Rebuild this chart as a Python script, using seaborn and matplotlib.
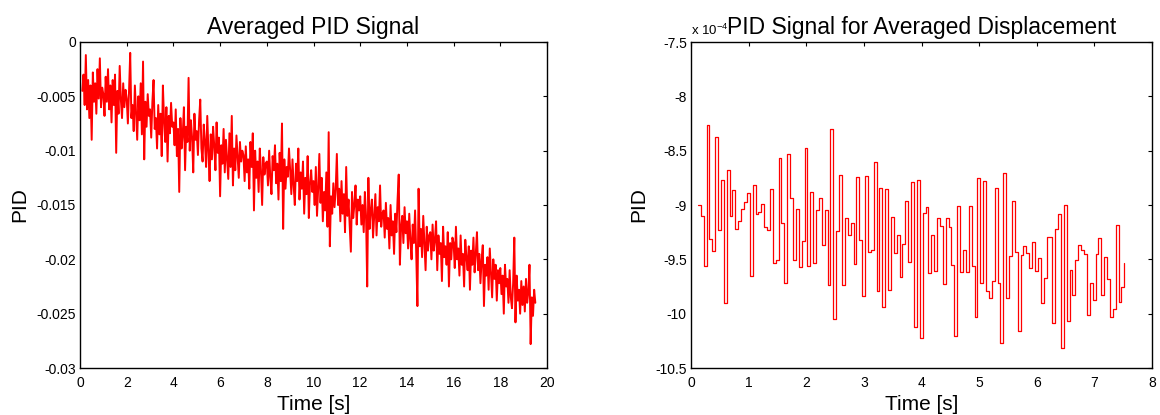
import numpy as np
import pandas as pd
import matplotlib
matplotlib.use('Agg')
import matplotlib.pyplot as plt
from matplotlib.ticker import FuncFormatter, MultipleLocator
import seaborn as sns


# averaged PID signal, units of 1e-4, one value every 0.05 s from t = 0.1 s
pid_avg = [
    -45, -30, -58, -12, -62, -35, -70, -40, -90, -28, -55, -38, -66, -25, -52, -15, -60, -42,
    -48, -68, -32, -55, -25, -62, -40, -74, -35, -58, -30, -102, -45, -66, -22, -53, -70, -38, -60, -44,
    -52, -75, -45, -10, -70, -58, -82, -40, -66, -90, -50, -72, -38, -85, -18, -108, -55, -78, -48, -68,
    -62, -88, -55, -35, -80, -70, -98, -58, -85, -66, -105, -40, -72, -92, -60, -110, -68, -84, -56, -78,
    -74, -95, -62, -105, -80, -138, -70, -98, -85, -60, -118, -78, -92, -33, -100, -72, -88, -120, -66, -90,
    -82, -104, -72, -53, -98, -110, -76, -92, -115, -68, -100, -128, -85, -108, -78, -96, -118, -74, -102, -88,
    -142, -95, -112, -80, -120, -90, -108, -126, -84, -115, -68, -132, -98, -118, -86, -106, -125, -92, -110, -100,
    -104, -128, -96, -120, -108, -135, -92, -115, -84, -155, -100, -125, -110, -138, -98, -118, -150, -106, -122, -112,
    -110, -132, -100, -125, -140, -105, -118, -95, -130, -112, -145, -102, -128, -75, -172, -108, -135, -115, -124, -98,
    -118, -140, -108, -132, -150, -112, -128, -98, -145, -120, -135, -110, -158, -125, -140, -105, -162, -130, -118, -138,
    -128, -150, -115, -160, -135, -103, -148, -125, -165, -138, -155, -120, -170, -83, -188, -142, -158, -130, -152, -136,
    -103, -150, -135, -165, -128, -158, -140, -175, -115, -160, -145, -170, -193, -138, -162, -150, -132, -168, -145, -155,
    -142, -168, -150, -175, -138, -160, -225, -125, -172, -155, -145, -180, -160, -140, -178, -152, -165, -132, -170, -158,
    -155, -180, -148, -172, -162, -190, -150, -178, -165, -195, -158, -175, -145, -122, -205, -170, -160, -185, -152, -176,
    -165, -190, -158, -182, -200, -168, -185, -155, -195, -243, -135, -188, -172, -198, -160, -185, -210, -170, -192, -178,
    -175, -200, -168, -192, -182, -165, -210, -178, -195, -185, -220, -170, -198, -188, -205, -175, -225, -185, -200, -180,
    -185, -208, -170, -200, -190, -215, -178, -205, -195, -225, -182, -198, -210, -188, -228, -192, -205, -180, -212, -195,
    -175, -210, -195, -222, -200, -187, -243, -205, -215, -198, -228, -190, -212, -235, -200, -218, -205, -238, -210, -222,
    -208, -232, -215, -250, -205, -225, -218, -240, -210, -235, -245, -222, -180, -258, -215, -238, -228, -250, -220, -242,
    -225, -248, -218, -240, -230, -205, -278, -235, -252, -228, -240,
]

# PID for averaged displacement, units of 1e-4, one step every 0.05 s from t = 0.12 s
pid_disp = [
    -9.0, -9.1, -9.56, -8.26, -9.31, -9.42, -8.37, -9.23, -8.77, -9.9,
    -8.68, -9.1, -8.86, -9.22, -9.15, -9.04, -8.97, -8.89, -9.65, -8.82,
    -9.08, -9.06, -8.99, -9.2, -9.23, -8.85, -9.53, -9.51, -8.57, -9.17,
    -9.72, -8.53, -8.94, -9.51, -9.04, -9.57, -9.33, -8.48, -9.56, -8.88,
    -9.53, -9.05, -8.94, -9.37, -9.05, -9.74, -8.30, -10.05, -9.24, -8.72,
    -9.74, -9.12, -9.28, -9.17, -9.54, -8.74, -9.32, -9.84, -8.73, -9.43,
    -9.41, -8.60, -9.79, -8.84, -9.94, -8.85, -9.78, -9.11, -9.44, -9.28,
    -9.66, -9.36, -8.96, -9.52, -8.79, -10.12, -8.77, -10.22, -9.07, -9.02,
    -9.63, -9.28, -9.61, -9.12, -9.19, -9.73, -9.12, -9.20, -9.55, -10.21,
    -9.01, -9.62, -9.41, -9.62, -9.01, -9.56, -10.03, -8.75, -9.72, -8.78,
    -9.79, -9.86, -9.70, -8.84, -9.72, -10.27, -8.71, -9.86, -9.47, -8.96,
    -9.43, -10.16, -9.46, -9.38, -9.44, -9.58, -9.34, -9.61, -9.49, -9.90,
    -9.67, -9.29, -9.29, -10.09, -9.22, -9.08, -10.32, -9.0, -10.07, -9.60,
    -9.83, -9.51, -9.37, -9.41, -9.45, -10.01, -9.72, -9.87, -9.45, -9.30,
    -9.83, -9.48, -9.68, -10.03, -9.96, -9.18, -9.89, -9.75, -9.53,
]

df_avg = pd.DataFrame({'Time': 0.1 + 0.05 * np.arange(len(pid_avg)),
                       'PID': np.array(pid_avg) * 1e-4})
df_disp = pd.DataFrame({'Time': 0.12 + 0.05 * np.arange(len(pid_disp)),
                        'PID': np.array(pid_disp) * 1e-4})

sns.set_style('white')
plt.rcParams['font.family'] = ['Liberation Sans', 'DejaVu Sans']
plt.rcParams['text.color'] = 'black'
plt.rcParams['axes.labelcolor'] = 'black'

fig = plt.figure(figsize=(11.6, 4.15), dpi=100)
ax1 = fig.add_axes([80 / 1160, 47 / 415, 467 / 1160, 326 / 415])
ax2 = fig.add_axes([691 / 1160, 47 / 415, 461 / 1160, 326 / 415])

sns.lineplot(data=df_avg, x='Time', y='PID', color='#ff0000', linewidth=1.4,
             estimator=None, sort=False, ax=ax1)
sns.lineplot(data=df_disp, x='Time', y='PID', color='#ff0000', linewidth=0.9,
             estimator=None, sort=False, drawstyle='steps-post', ax=ax2)

# left panel
ax1.set_xlim(0, 20)
ax1.set_ylim(-0.03, 0)
ax1.xaxis.set_major_locator(MultipleLocator(2))
ax1.yaxis.set_major_locator(MultipleLocator(0.005))
ax1.yaxis.set_major_formatter(FuncFormatter(lambda v, p: '%g' % round(v, 6)))
ax1.set_title('Averaged PID Signal', fontsize=16.5, pad=6)

# right panel
ax2.set_xlim(0, 8)
ax2.set_ylim(-10.5e-4, -7.5e-4)
ax2.xaxis.set_major_locator(MultipleLocator(1))
ax2.yaxis.set_major_locator(MultipleLocator(0.5e-4))
ax2.yaxis.set_major_formatter(FuncFormatter(lambda v, p: '%g' % round(v * 1e4, 4)))
ax2.set_title('PID Signal for Averaged Displacement', fontsize=16.5, pad=6)
ax2.text(0.0, 1.012, r'x 10$^{\mathregular{-4}}$', transform=ax2.transAxes,
         fontsize=9.5, ha='left', va='bottom')

for ax in (ax1, ax2):
    ax.set_xlabel('Time [s]', fontsize=15, labelpad=3)
    ax.set_ylabel('PID', fontsize=15, labelpad=5)
    ax.xaxis.set_major_formatter(FuncFormatter(lambda v, p: '%g' % v))
    ax.tick_params(direction='in', top=True, right=True, length=3, width=0.8,
                   labelsize=10, color='black', labelcolor='black')
    ax.tick_params(axis='x', pad=6)
    ax.tick_params(axis='y', pad=3)
    for s in ax.spines.values():
        s.set_color('black')
        s.set_linewidth(1.0)

fig.savefig('out.png', dpi=100)
